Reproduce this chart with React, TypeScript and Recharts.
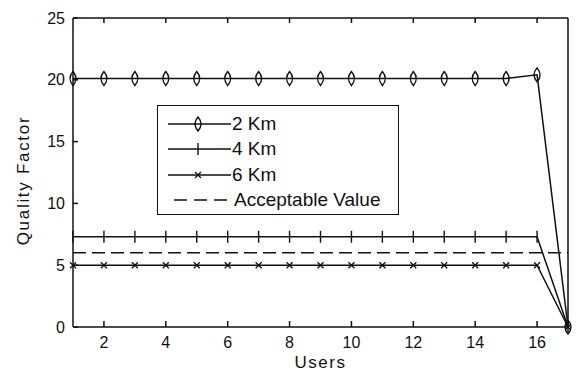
import React from 'react';
import { LineChart, Line, XAxis, YAxis, Legend } from 'recharts';

// values
const users = [1, 2, 3, 4, 5, 6, 7, 8, 9, 10, 11, 12, 13, 14, 15, 16, 17];
const km2 = [20.1, 20.1, 20.1, 20.1, 20.1, 20.1, 20.1, 20.1, 20.1, 20.1, 20.1, 20.1, 20.1, 20.1, 20.1, 20.4, 0];
const km4 = [7.3, 7.3, 7.3, 7.3, 7.3, 7.3, 7.3, 7.3, 7.3, 7.3, 7.3, 7.3, 7.3, 7.3, 7.3, 7.3, 0];
const km6 = [5, 5, 5, 5, 5, 5, 5, 5, 5, 5, 5, 5, 5, 5, 5, 5, 0];
const acceptable = [6, 6, 6, 6, 6, 6, 6, 6, 6, 6, 6, 6, 6, 6, 6, 6, 6];
const xTicks = [2, 4, 6, 8, 10, 12, 14, 16];
const yTicks = [0, 5, 10, 15, 20, 25];
const yTicksRight = [5, 10, 15, 20];
const seriesNames = ['2 Km', '4 Km', '6 Km', 'Acceptable Value'];

const data = users.map((u, i) => ({
  users: u,
  km2: km2[i],
  km4: km4[i],
  km6: km6[i],
  acceptable: acceptable[i],
}));

const INK = '#111';
const FONT = '"Liberation Sans", Arial, sans-serif';

const lensPath = (cx: number, cy: number) =>
  `M${cx},${cy - 7} Q${cx + 6},${cy} ${cx},${cy + 7} Q${cx - 6},${cy} ${cx},${cy - 7}Z`;

const LensDot = (p: any) => {
  const { cx, cy, index } = p;
  if (cx == null || cy == null) return <g key={`l-${index}`} />;
  return <path key={`l-${index}`} d={lensPath(cx, cy)} fill="none" stroke={INK} strokeWidth={1.4} />;
};

const PlusDot = (p: any) => {
  const { cx, cy, index } = p;
  if (cx == null || cy == null) return <g key={`p-${index}`} />;
  return <line key={`p-${index}`} x1={cx} x2={cx} y1={cy - 6} y2={cy + 6} stroke={INK} strokeWidth={1.4} />;
};

const CrossDot = (p: any) => {
  const { cx, cy, index } = p;
  if (cx == null || cy == null) return <g key={`c-${index}`} />;
  return (
    <path
      key={`c-${index}`}
      d={`M${cx - 3},${cy - 3} L${cx + 3},${cy + 3} M${cx - 3},${cy + 3} L${cx + 3},${cy - 3}`}
      stroke={INK}
      strokeWidth={1.3}
    />
  );
};

const LegendBox = () => {
  const markers = ['lens', 'plus', 'cross', 'dash'];
  return (
    <div
      style={{
        width: 242,
        height: 110,
        boxSizing: 'border-box',
        border: `1.5px solid ${INK}`,
        background: '#fff',
        paddingTop: 5,
        fontFamily: FONT,
        fontSize: 19,
        color: INK,
      }}
    >
      {seriesNames.map((name, i) => (
        <div key={name} style={{ display: 'flex', alignItems: 'center', height: 25.5 }}>
          <svg width={64} height={24} style={{ marginLeft: 10, flex: 'none' }}>
            {markers[i] === 'dash' ? (
              <line x1={6} x2={59} y1={12} y2={12} stroke={INK} strokeWidth={1.5} strokeDasharray="13 7" />
            ) : (
              <line x1={0} x2={63} y1={12} y2={12} stroke={INK} strokeWidth={1.5} />
            )}
            {markers[i] === 'lens' && <path d={lensPath(30, 12)} fill="none" stroke={INK} strokeWidth={1.4} />}
            {markers[i] === 'plus' && <line x1={30} x2={30} y1={6} y2={18} stroke={INK} strokeWidth={1.4} />}
            {markers[i] === 'cross' && (
              <path d="M27,9 L33,15 M27,15 L33,9" stroke={INK} strokeWidth={1.3} />
            )}
          </svg>
          <span style={{ marginLeft: i === 3 ? 2 : 0, whiteSpace: 'nowrap' }}>{name}</span>
        </div>
      ))}
    </div>
  );
};

export default function App() {
  const tickStyle = { fontSize: 16, fill: INK, fontFamily: FONT };
  const noLabel = () => <g />;
  return (
    <div style={{ position: 'absolute', left: 0, top: 0, background: '#fff' }}>
      <LineChart width={579} height={371} data={data} margin={{ top: 17, right: 10, bottom: 4, left: 0 }}>
        <XAxis
          dataKey="users"
          type="number"
          domain={[1, 17]}
          ticks={xTicks}
          height={40}
          tickSize={-6}
          tickMargin={16}
          tick={tickStyle}
          axisLine={{ stroke: INK, strokeWidth: 1.5 }}
          tickLine={{ stroke: INK, strokeWidth: 1.5 }}
          label={{
            value: 'Users',
            position: 'insideBottom',
            offset: -1,
            style: { fontSize: 17, fill: INK, fontFamily: FONT, letterSpacing: 1.5 },
          }}
        />
        <XAxis
          xAxisId="top"
          orientation="top"
          dataKey="users"
          type="number"
          domain={[1, 17]}
          ticks={xTicks}
          height={1}
          tickSize={-5}
          tick={noLabel}
          axisLine={{ stroke: INK, strokeWidth: 1.5 }}
          tickLine={{ stroke: INK, strokeWidth: 1.5 }}
        />
        <YAxis
          type="number"
          domain={[0, 25]}
          ticks={yTicks}
          width={73}
          tickSize={-5}
          tickMargin={13}
          tick={tickStyle}
          axisLine={{ stroke: INK, strokeWidth: 1.5 }}
          tickLine={{ stroke: INK, strokeWidth: 1.5 }}
          label={{
            value: 'Quality Factor',
            angle: -90,
            position: 'insideLeft',
            offset: 23,
            dy: 8,
            style: { fontSize: 17, fill: INK, fontFamily: FONT, letterSpacing: 1.7, textAnchor: 'middle' },
          }}
        />
        <YAxis
          yAxisId="right"
          orientation="right"
          type="number"
          domain={[0, 25]}
          ticks={yTicksRight}
          width={1}
          tickSize={-5}
          tick={noLabel}
          axisLine={{ stroke: INK, strokeWidth: 1.5 }}
          tickLine={{ stroke: INK, strokeWidth: 1.5 }}
        />
        <Legend
          layout="vertical"
          align="center"
          verticalAlign="middle"
          content={() => <LegendBox />}
          wrapperStyle={{ left: 157, top: 105, width: 242, height: 110 }}
        />
        <Line
          dataKey="acceptable"
          name={seriesNames[3]}
          stroke={INK}
          strokeWidth={1.5}
          strokeDasharray="13 6"
          dot={false}
          activeDot={false}
          isAnimationActive={false}
        />
        <Line
          dataKey="km6"
          name={seriesNames[2]}
          stroke={INK}
          strokeWidth={1.5}
          dot={CrossDot}
          activeDot={false}
          isAnimationActive={false}
        />
        <Line
          dataKey="km4"
          name={seriesNames[1]}
          stroke={INK}
          strokeWidth={1.5}
          dot={PlusDot}
          activeDot={false}
          isAnimationActive={false}
        />
        <Line
          dataKey="km2"
          name={seriesNames[0]}
          stroke={INK}
          strokeWidth={1.5}
          dot={LensDot}
          activeDot={false}
          isAnimationActive={false}
        />
      </LineChart>
    </div>
  );
}
